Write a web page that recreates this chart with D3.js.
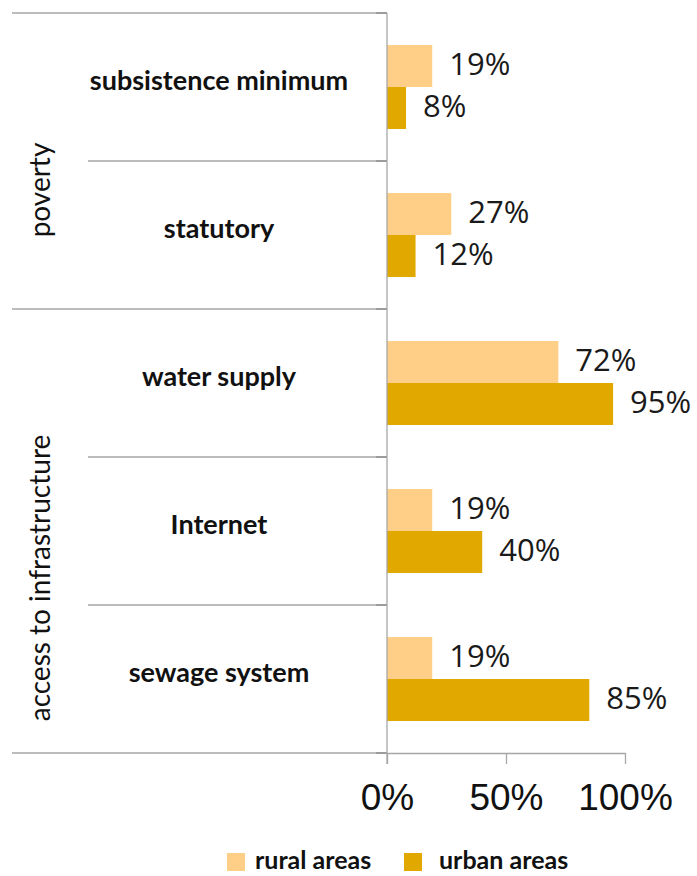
<!DOCTYPE html>
<html><head><meta charset="utf-8">
<script src="https://cdn.jsdelivr.net/npm/d3@7"></script>
<style>html,body{margin:0;padding:0;background:#fff;}svg{display:block;}</style>
</head><body>
<script>
const categories = ["subsistence minimum", "statutory", "water supply", "Internet", "sewage system"];
const groups = [
  {name: "poverty", members: ["subsistence minimum", "statutory"]},
  {name: "access to infrastructure", members: ["water supply", "Internet", "sewage system"]}
];
const seriesNames = ["rural areas", "urban areas"];
const rural = [19, 27, 72, 19, 19];
const urban = [8, 12, 95, 40, 85];
const xTicks = [0, 50, 100];
const colors = ["#FFCF87", "#E1A800"];

const W = 697, H = 876;
const svg = d3.select("body").append("svg").attr("width", W).attr("height", H);

const x0 = 387, x1 = 625, yTop = 13, yBot = 753;
const x = d3.scaleLinear().domain([0, 100]).range([x0, x1]);
const y = d3.scaleBand().domain(categories).range([yTop, yBot]).paddingInner(0).paddingOuter(0);
const inner = d3.scaleBand().domain(seriesNames).range([0, y.bandwidth()]).paddingOuter(0.762).paddingInner(0);

const gridColor = "#a6a6a6";
categories.forEach((c, i) => {
  if (i === 0) return;
  const isGroupBoundary = groups.some(g => g.members[0] === c);
  svg.append("line")
    .attr("x1", isGroupBoundary ? 12 : 88).attr("x2", x0)
    .attr("y1", y(c)).attr("y2", y(c))
    .attr("stroke", gridColor).attr("stroke-width", 1.3);
});
svg.append("line").attr("x1", 12).attr("x2", x0).attr("y1", yTop).attr("y2", yTop).attr("stroke", gridColor).attr("stroke-width", 1.3);
svg.append("line").attr("x1", 12).attr("x2", x0).attr("y1", yBot).attr("y2", yBot).attr("stroke", gridColor).attr("stroke-width", 1.3);
[yTop, ...categories.slice(1).map(c => y(c)), yBot].forEach(v => {
  svg.append("line").attr("x1", x0 - 11).attr("x2", x0).attr("y1", v).attr("y2", v).attr("stroke", "#8c8c8c").attr("stroke-width", 1.3);
});

// bars
const data = categories.map((c, i) => ({c, vals: [rural[i], urban[i]]}));
const g = svg.append("g");
data.forEach(d => {
  d.vals.forEach((v, j) => {
    const yy = y(d.c) + inner(seriesNames[j]);
    g.append("rect").attr("x", x(0)).attr("y", yy)
      .attr("width", x(v) - x(0)).attr("height", inner.bandwidth())
      .attr("fill", colors[j]);
    g.append("text").attr("x", x(v) + 17).attr("y", yy + inner.bandwidth() / 2 + 1)
      .attr("dominant-baseline", "middle")
      .attr("font-family", "'Open Sans', sans-serif").attr("font-size", 31)
      .attr("fill", "#1a1a1a").text(v + "%");
  });
});

// x axis
const xAxis = d3.axisBottom(x).tickValues(xTicks).tickFormat(d => d + "%").tickSize(11).tickSizeOuter(0);
const ax = svg.append("g").attr("transform", `translate(0,${yBot})`).call(xAxis);
ax.select(".domain").attr("stroke", gridColor).attr("stroke-width", 1.3);
ax.selectAll(".tick line").attr("stroke", gridColor).attr("stroke-width", 1.3);
ax.selectAll(".tick text").attr("font-family", "'Liberation Sans', Arial, sans-serif")
  .attr("font-size", 37).attr("fill", "#111").attr("dy", 0).attr("y", 57);

svg.append("line").attr("x1", x0).attr("x2", x0).attr("y1", yTop).attr("y2", yBot + 11)
  .attr("stroke", gridColor).attr("stroke-width", 1.3);

// category labels
categories.forEach(c => {
  svg.append("text").attr("x", 219).attr("y", y(c) + y.bandwidth() / 2 - 4)
    .attr("text-anchor", "middle").attr("dominant-baseline", "middle")
    .attr("font-family", "Lato, sans-serif").attr("font-weight", "bold").attr("font-size", 27)
    .attr("fill", "#111").text(c);
});

// group labels
const groupOffsets = [29, 47];
groups.forEach((gr, i) => {
  const top = y(gr.members[0]);
  const bot = y(gr.members[gr.members.length - 1]) + y.bandwidth();
  const cy = (top + bot) / 2 + groupOffsets[i];
  svg.append("text").attr("transform", `translate(43,${cy}) rotate(-90)`)
    .attr("text-anchor", "middle").attr("dominant-baseline", "middle")
    .attr("font-family", "Lato, sans-serif").attr("font-size", 28)
    .attr("fill", "#111").text(gr.name);
});

// legend
const legendX = [227, 404];
seriesNames.forEach((s, j) => {
  svg.append("rect").attr("x", legendX[j]).attr("y", 853).attr("width", 18).attr("height", 18).attr("fill", colors[j]);
  svg.append("text").attr("x", legendX[j] + (j === 0 ? 28 : 35)).attr("y", 869)
    .attr("font-family", "Lato, sans-serif").attr("font-weight", "bold").attr("font-size", 25)
    .attr("fill", "#111").text(s);
});
</script>
</body></html>
